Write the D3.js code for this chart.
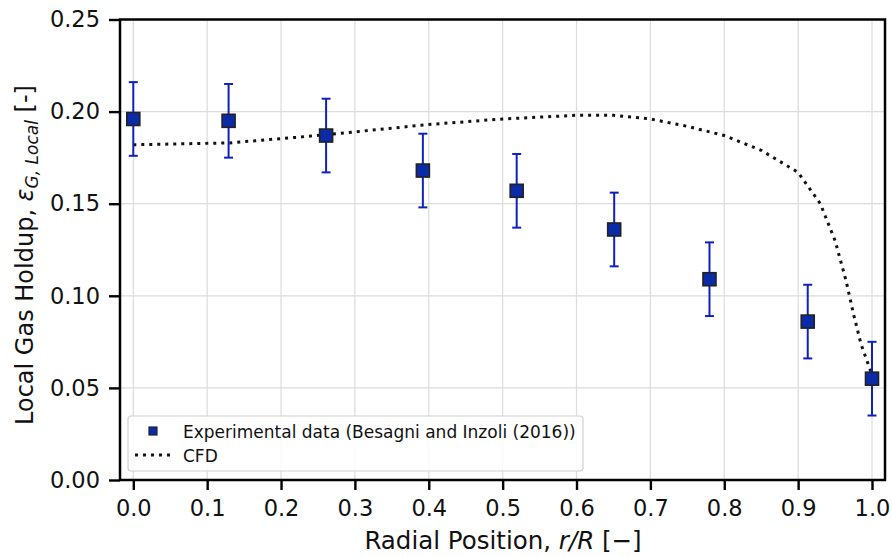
<!DOCTYPE html>
<html><head><meta charset="utf-8">
<script src="https://cdn.jsdelivr.net/npm/d3@7"></script>
<style>body{margin:0;background:#fff}svg{display:block;font-family:"DejaVu Sans",sans-serif}</style>
</head><body>
<svg id="c" width="892" height="557"></svg>
<script>
// Experimental data
const expX = [0.0, 0.129, 0.261, 0.392, 0.519, 0.651, 0.780, 0.913, 1.0];
const expY = [0.196, 0.195, 0.187, 0.168, 0.157, 0.136, 0.109, 0.086, 0.055];
const expErr = [0.02, 0.02, 0.02, 0.02, 0.02, 0.02, 0.02, 0.02, 0.02];
// CFD curve
const cfdX = [0.0, 0.13, 0.22, 0.3, 0.4, 0.5, 0.6, 0.65, 0.7, 0.75, 0.8, 0.85, 0.9, 0.93, 0.95, 0.965, 0.975, 0.985, 1.0];
const cfdY = [0.182, 0.183, 0.186, 0.189, 0.193, 0.196, 0.198, 0.198, 0.196, 0.192, 0.187, 0.179, 0.167, 0.150, 0.130, 0.108, 0.090, 0.074, 0.057];
const xTicks = [0.0,0.1,0.2,0.3,0.4,0.5,0.6,0.7,0.8,0.9,1.0];
const yTicks = [0.00,0.05,0.10,0.15,0.20,0.25];
const legendLabels = ["Experimental data (Besagni and Inzoli (2016))", "CFD"];

const svg = d3.select("#c");
const L = 120, R = 885, T = 19.5, B = 480;
const x = d3.scaleLinear().domain([-0.018, 1.0176]).range([L, R]);
const y = d3.scaleLinear().domain([0, 0.25]).range([B, T]);

// grid
const g = svg.append("g");
g.selectAll(".gx").data(xTicks).join("line")
  .attr("x1", d=>x(d)).attr("x2", d=>x(d)).attr("y1", T).attr("y2", B)
  .attr("stroke", "#dcdcdc").attr("stroke-width", 1.2);
g.selectAll(".gy").data(yTicks).join("line")
  .attr("y1", d=>y(d)).attr("y2", d=>y(d)).attr("x1", L).attr("x2", R)
  .attr("stroke", "#dcdcdc").attr("stroke-width", 1.2);

// axes
const xAxis = svg.append("g").attr("transform", `translate(0,${B})`)
  .call(d3.axisBottom(x).tickValues(xTicks).tickFormat(d3.format(".1f")).tickSize(10).tickPadding(10));
const yAxis = svg.append("g").attr("transform", `translate(${L},0)`)
  .call(d3.axisLeft(y).tickValues(yTicks).tickFormat(d3.format(".2f")).tickSize(11).tickPadding(9));
[xAxis, yAxis].forEach(a => {
  a.select(".domain").remove();
  a.selectAll(".tick line").attr("stroke", "#000").attr("stroke-width", 2.4);
  a.selectAll(".tick text").attr("fill", "#111").style("font-size", "22.5px").style("font-family", "DejaVu Sans");
});

// CFD line
const line = d3.line().x(d=>x(d[0])).y(d=>y(d[1]));
svg.append("path").datum(cfdX.map((v,i)=>[v, cfdY[i]]))
  .attr("d", line).attr("fill", "none").attr("stroke", "#111")
  .attr("stroke-width", 3).attr("stroke-dasharray", "3,5");

// error bars
const pts = expX.map((v,i)=>({x:v, y:expY[i], e:expErr[i]}));
const eb = svg.append("g");
eb.selectAll(".v").data(pts).join("line")
  .attr("x1", d=>x(d.x)).attr("x2", d=>x(d.x))
  .attr("y1", d=>y(d.y-d.e)).attr("y2", d=>y(d.y+d.e))
  .attr("stroke", "#1020c0").attr("stroke-width", 2);
[-1,1].forEach(s => {
  eb.selectAll(".c"+s).data(pts).join("line")
    .attr("x1", d=>x(d.x)-4.5).attr("x2", d=>x(d.x)+4.5)
    .attr("y1", d=>y(d.y+s*d.e)).attr("y2", d=>y(d.y+s*d.e))
    .attr("stroke", "#1020c0").attr("stroke-width", 2);
});
// markers
svg.append("g").selectAll("rect").data(pts).join("rect")
  .attr("x", d=>x(d.x)-6.5).attr("y", d=>y(d.y)-6.5)
  .attr("width", 13).attr("height", 13)
  .attr("fill", "#0a2aa8").attr("stroke", "#222").attr("stroke-width", 1.6);

// spines
svg.append("rect").attr("x", L).attr("y", T).attr("width", R-L).attr("height", B-T)
  .attr("fill", "none").attr("stroke", "#000").attr("stroke-width", 2.5);

// legend
const lg = svg.append("g");
lg.append("rect").attr("x", 128).attr("y", 416).attr("width", 455).attr("height", 55)
  .attr("rx", 3).attr("fill", "#fff").attr("fill-opacity", 0.85)
  .attr("stroke", "#d0d0d0").attr("stroke-width", 1.2);
lg.append("rect").attr("x", 149).attr("y", 427).attr("width", 8).attr("height", 8)
  .attr("fill", "#0a2aa8").attr("stroke", "#222").attr("stroke-width", 1.2);
lg.append("line").attr("x1", 135).attr("x2", 171).attr("y1", 455).attr("y2", 455)
  .attr("stroke", "#111").attr("stroke-width", 3).attr("stroke-dasharray", "3,5");
lg.selectAll("text").data(legendLabels).join("text")
  .attr("x", 183).attr("y", (d,i)=>437.5 + i*24)
  .style("font-size", "17px").attr("fill", "#111").text(d=>d);

// axis labels
const xl = svg.append("text").attr("x", 503).attr("y", 549).attr("text-anchor", "middle")
  .style("font-size", "24.5px").attr("fill", "#111");
xl.append("tspan").text("Radial Position, ");
xl.append("tspan").style("font-style", "italic").text("r/R");
xl.append("tspan").text(" [\u2212]");

const yl = svg.append("text").attr("transform", "translate(33,255) rotate(-90)")
  .attr("text-anchor", "middle").style("font-size", "24px").attr("fill", "#111");
yl.append("tspan").text("Local Gas Holdup, ");
yl.append("tspan").style("font-style", "italic").text("\u03b5");
yl.append("tspan").style("font-style", "italic").style("font-size", "17px").attr("dy", 5).text("G, Local");
yl.append("tspan").attr("dy", -5).text(" [-]");
</script>
</body></html>
